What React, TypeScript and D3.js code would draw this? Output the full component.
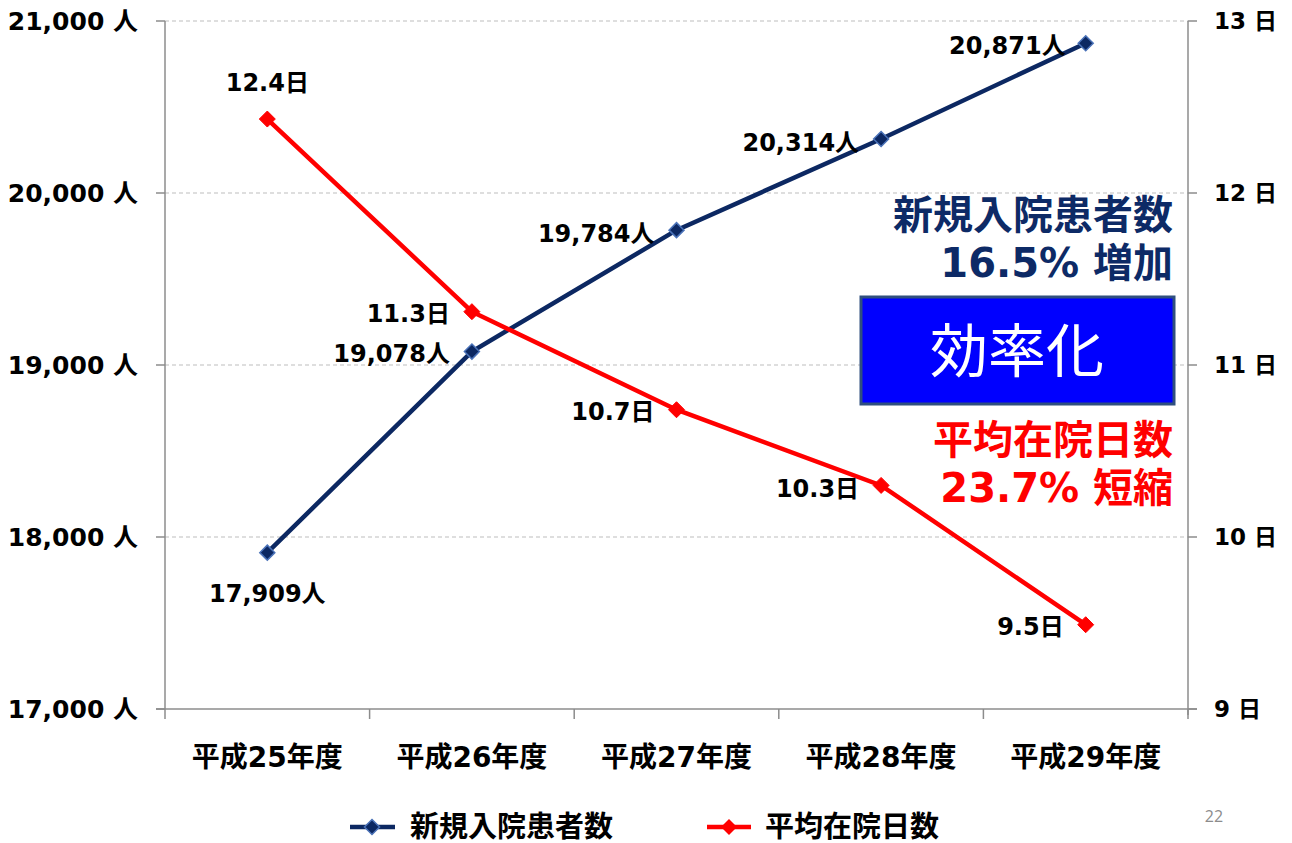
import React from "react";
import * as d3 from "d3";

const categories = ["平成25年度", "平成26年度", "平成27年度", "平成28年度", "平成29年度"];
const patients = [17909, 19078, 19784, 20314, 20871];
const stayDays = [12.43, 11.31, 10.74, 10.3, 9.49];
const leftTicks = [17000, 18000, 19000, 20000, 21000];
const rightTicks = [9, 10, 11, 12, 13];
const seriesNames = ["新規入院患者数", "平均在院日数"];

const W = 1292;
const H = 843;
const FONT = "'DejaVu Sans', Verdana, 'Noto Sans CJK JP', sans-serif";
const NAVY = "#0c2862";
const RED = "#ff0000";

export default function App() {
  const x0 = 165, x1 = 1188, yTop = 21, yBot = 709;
  const xBand = d3.scaleBand().domain(categories).range([x0, x1]);
  const xc = (c: string) => (xBand(c) as number) + xBand.bandwidth() / 2;
  const yL = d3.scaleLinear().domain([17000, 21000]).range([yBot, yTop]);
  const yR = d3.scaleLinear().domain([9, 13]).range([yBot, yTop]);
  const line = d3.line<[number, number]>().x(d => d[0]).y(d => d[1]);
  const pPts: [number, number][] = categories.map((c, i) => [xc(c), yL(patients[i])]);
  const dPts: [number, number][] = categories.map((c, i) => [xc(c), yR(stayDays[i])]);
  const fmt = d3.format(",");
  const diamond = (cx: number, cy: number, r: number) =>
    `M${cx},${cy - r}L${cx + r},${cy}L${cx},${cy + r}L${cx - r},${cy}Z`;

  const pLabelPos: [number, number, string][] = [
    [0, 41, "middle"],
    [-22, 2, "end"],
    [-22, 3, "end"],
    [-22, 3, "end"],
    [-20, 2, "end"],
  ];
  const dLabelPos: [number, number, string][] = [
    [0, -37, "middle"],
    [-22, 2, "end"],
    [-22, 2, "end"],
    [-22, 3, "end"],
    [-22, 2, "end"],
  ];

  return (
    <svg width={W} height={H} style={{ position: "absolute", left: 0, top: 0, background: "#fff" }} fontFamily={FONT}>
      {leftTicks.filter(t => t !== 17000).map(t => (
        <line key={"g" + t} x1={x0} x2={x1} y1={yL(t)} y2={yL(t)} stroke="#bdbdbd" strokeWidth={1} strokeDasharray="4,3" />
      ))}
      <line x1={x0} x2={x0} y1={yTop} y2={yBot} stroke="#8c8c8c" strokeWidth={1.5} />
      <line x1={x1} x2={x1} y1={yTop} y2={yBot + 6} stroke="#8c8c8c" strokeWidth={1.5} />
      <line x1={x0 - 9} x2={x1 + 9} y1={yBot} y2={yBot} stroke="#8c8c8c" strokeWidth={1.5} />
      {leftTicks.map(t => (
        <line key={"lt" + t} x1={x0 - 9} x2={x0} y1={yL(t)} y2={yL(t)} stroke="#8c8c8c" strokeWidth={1.5} />
      ))}
      {rightTicks.map(t => (
        <line key={"rt" + t} x1={x1} x2={x1 + 9} y1={yR(t)} y2={yR(t)} stroke="#8c8c8c" strokeWidth={1.5} />
      ))}
      {categories.map(c => (
        <line key={"xt" + c} x1={xBand(c) as number} x2={xBand(c) as number} y1={yBot} y2={yBot + 10} stroke="#8c8c8c" strokeWidth={1.5} />
      ))}
      <line x1={x1} x2={x1} y1={yBot} y2={yBot + 10} stroke="#8c8c8c" strokeWidth={1.5} />

      {leftTicks.map(t => (
        <text key={"ll" + t} x={138} y={yL(t)} dy="0.36em" textAnchor="end" fontSize={25} fontWeight="bold" fill="#000">
          {fmt(t) + " 人"}
        </text>
      ))}
      {rightTicks.map(t => (
        <text key={"rl" + t} x={1214} y={yR(t)} dy="0.36em" textAnchor="start" fontSize={23} fontWeight="bold" fill="#000">
          {t + " 日"}
        </text>
      ))}
      {categories.map(c => (
        <text key={"xl" + c} x={xc(c)} y={757} dy="0.36em" textAnchor="middle" fontSize={28} fontWeight="bold" fill="#000">
          {c}
        </text>
      ))}

      <path d={line(pPts) as string} fill="none" stroke={NAVY} strokeWidth={4.5} />
      <path d={line(dPts) as string} fill="none" stroke={RED} strokeWidth={4.5} />
      {pPts.map((p, i) => (
        <path key={"pm" + i} d={diamond(p[0], p[1], 7.5)} fill={NAVY} stroke="#4a72b8" strokeWidth={1.5} />
      ))}
      {dPts.map((p, i) => (
        <path key={"dm" + i} d={diamond(p[0], p[1], 8)} fill={RED} stroke={RED} strokeWidth={1} />
      ))}

      {pPts.map((p, i) => (
        <text key={"pl" + i} x={p[0] + pLabelPos[i][0]} y={p[1] + pLabelPos[i][1]} dy="0.36em"
          textAnchor={pLabelPos[i][2] as any} fontSize={24} fontWeight="bold" fill="#000">
          {fmt(patients[i]) + "人"}
        </text>
      ))}
      {dPts.map((p, i) => (
        <text key={"dl" + i} x={p[0] + dLabelPos[i][0]} y={p[1] + dLabelPos[i][1]} dy="0.36em"
          textAnchor={dLabelPos[i][2] as any} fontSize={24} fontWeight="bold" fill="#000">
          {d3.format(".1f")(stayDays[i]) + "日"}
        </text>
      ))}

      <text x={1173} y={215} dy="0.36em" textAnchor="end" fontSize={40} fontWeight="bold" fill="#0d2a66">新規入院患者数</text>
      <text x={1173} y={263} dy="0.36em" textAnchor="end" fontSize={40} fontWeight="bold" fill="#0d2a66">16.5% 増加</text>
      <rect x={861} y={297} width={313} height={107} fill="#0000ff" stroke="#2f4f7f" strokeWidth={3} />
      <text x={1017} y={351} dy="0.36em" textAnchor="middle" fontSize={58} fill="#fff" fontFamily="'Noto Sans CJK JP', sans-serif">効率化</text>
      <text x={1173} y={440} dy="0.36em" textAnchor="end" fontSize={40} fontWeight="bold" fill={RED}>平均在院日数</text>
      <text x={1173} y={488} dy="0.36em" textAnchor="end" fontSize={40} fontWeight="bold" fill={RED}>23.7% 短縮</text>

      <line x1={350} x2={395} y1={827} y2={827} stroke={NAVY} strokeWidth={4.5} />
      <path d={diamond(372, 827, 7.5)} fill={NAVY} stroke="#4a72b8" strokeWidth={1.5} />
      <text x={410} y={827} dy="0.36em" fontSize={29} fontWeight="bold" fill="#000">{seriesNames[0]}</text>
      <line x1={707} x2={751} y1={827} y2={827} stroke={RED} strokeWidth={4.5} />
      <path d={diamond(729, 827, 8)} fill={RED} />
      <text x={765} y={827} dy="0.36em" fontSize={29} fontWeight="bold" fill="#000">{seriesNames[1]}</text>

      <text x={1214} y={816} dy="0.36em" textAnchor="middle" fontSize={16} fill="#8c8c8c" fontFamily="'Open Sans', sans-serif">22</text>
    </svg>
  );
}
